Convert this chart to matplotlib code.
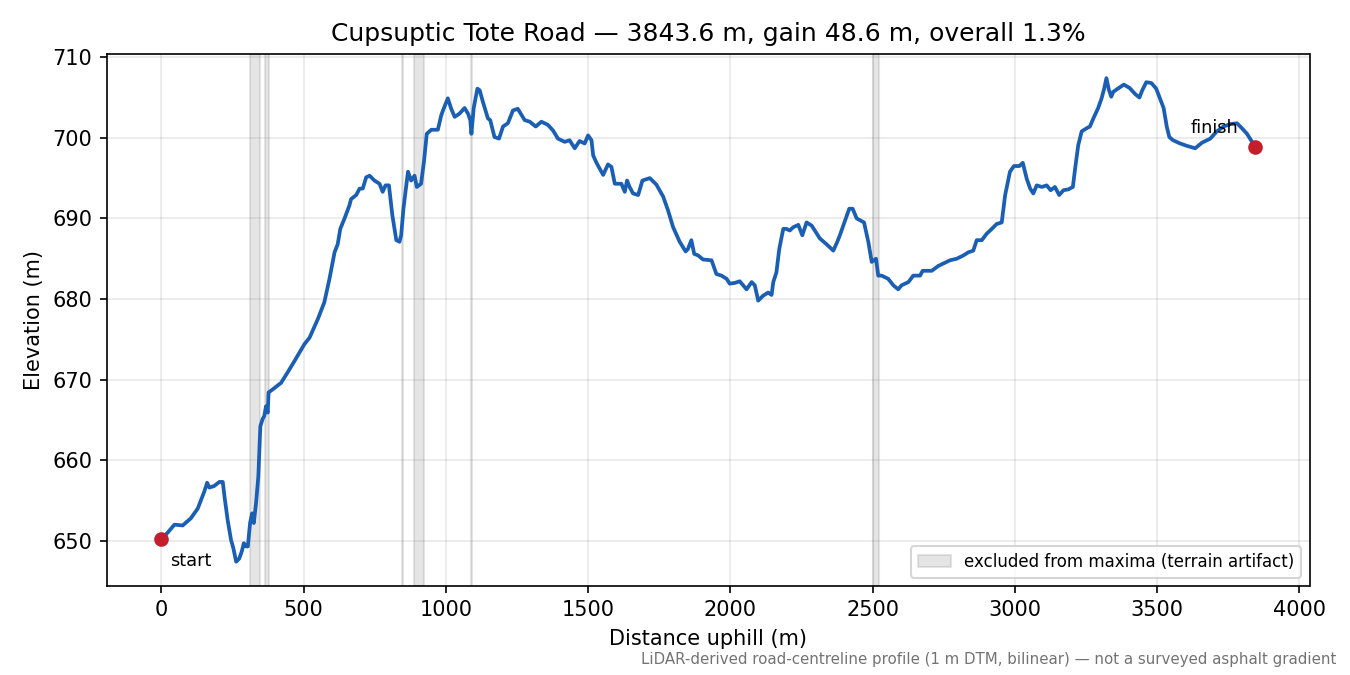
import numpy as np
import matplotlib
matplotlib.use("Agg")
import matplotlib.pyplot as plt

# ── Road profile (distance uphill m, elevation m) ────────────────────────────
dist = [0, 22, 46, 75, 104, 128, 151, 161, 169, 186, 204, 216, 222, 233, 245,
        253, 263, 274, 283, 290, 298, 304, 312, 319, 325, 333, 341, 348, 356,
        362, 368, 374, 377, 392, 421, 444, 468, 503, 521, 550, 573, 591, 609,
        620, 629, 644, 661, 667, 685, 697, 708, 720, 732, 749, 767, 778, 788,
        800, 812, 826, 837, 843, 851, 867, 878, 890, 898, 913, 923, 933, 949,
        972, 984, 990, 1007, 1019, 1031, 1048, 1066, 1078, 1086, 1090, 1098,
        1111, 1119, 1130, 1148, 1156, 1171, 1187, 1201, 1218, 1236, 1253,
        1277, 1295, 1316, 1336, 1359, 1377, 1394, 1418, 1435, 1453, 1470,
        1488, 1500, 1512, 1518, 1531, 1553, 1570, 1582, 1594, 1617, 1629,
        1637, 1646, 1658, 1676, 1691, 1717, 1740, 1764, 1781, 1799, 1822,
        1843, 1851, 1863, 1873, 1887, 1904, 1934, 1951, 1969, 1987, 1998,
        2016, 2033, 2057, 2075, 2086, 2098, 2115, 2133, 2145, 2151, 2162,
        2172, 2186, 2197, 2209, 2221, 2239, 2253, 2268, 2286, 2315, 2338,
        2362, 2376, 2385, 2403, 2418, 2430, 2444, 2470, 2485, 2497, 2512,
        2520, 2532, 2555, 2573, 2590, 2602, 2626, 2643, 2667, 2676, 2690,
        2708, 2731, 2772, 2796, 2819, 2837, 2854, 2866, 2884, 2901, 2919,
        2936, 2954, 2966, 2983, 2997, 3016, 3028, 3042, 3054, 3065, 3077,
        3095, 3112, 3126, 3141, 3156, 3171, 3188, 3204, 3212, 3223, 3235,
        3253, 3264, 3276, 3293, 3305, 3314, 3322, 3331, 3339, 3346, 3362,
        3383, 3403, 3424, 3438, 3448, 3462, 3480, 3497, 3508, 3523, 3534,
        3543, 3556, 3581, 3605, 3634, 3658, 3687, 3710, 3734, 3757, 3781,
        3798, 3816, 3834, 3843.6]
elev = [650.2, 651.0, 652.0, 651.9, 652.8, 654.0, 656.1, 657.2, 656.6, 656.8,
        657.3, 657.3, 655.5, 652.6, 650.1, 649.1, 647.4, 647.8, 648.7, 649.7,
        649.3, 649.3, 652.2, 653.4, 652.2, 654.7, 658.0, 664.2, 665.1, 665.5,
        666.7, 665.9, 668.4, 668.8, 669.6, 670.9, 672.3, 674.4, 675.2, 677.5,
        679.6, 682.5, 685.8, 686.8, 688.7, 690.0, 691.6, 692.4, 692.9, 693.7,
        693.7, 695.1, 695.3, 694.7, 694.3, 693.3, 694.1, 694.1, 690.4, 687.3,
        687.1, 687.9, 691.2, 695.8, 694.7, 695.3, 693.9, 694.3, 697.0, 700.5,
        701.0, 701.0, 702.8, 703.4, 704.9, 703.6, 702.6, 703.0, 703.7, 703.0,
        702.2, 700.5, 703.7, 706.1, 705.9, 704.5, 702.4, 702.2, 700.1, 699.9,
        701.4, 701.8, 703.4, 703.6, 702.2, 702.0, 701.4, 702.0, 701.6, 700.9,
        699.9, 699.5, 699.7, 698.7, 699.6, 699.3, 700.3, 699.7, 697.8, 696.8,
        695.4, 696.7, 696.4, 694.3, 694.3, 693.3, 694.7, 693.9, 693.1, 692.9,
        694.7, 695.0, 694.2, 692.7, 691.0, 688.9, 687.1, 685.9, 686.2, 687.3,
        685.6, 685.4, 684.9, 684.8, 683.1, 682.9, 682.5, 681.9, 682.0, 682.2,
        681.2, 682.1, 681.7, 679.8, 680.4, 680.8, 680.5, 682.1, 683.3, 686.2,
        688.7, 688.7, 688.5, 688.9, 689.2, 687.9, 689.5, 689.1, 687.5, 686.8,
        686.0, 687.1, 687.9, 689.7, 691.2, 691.2, 690.0, 689.5, 687.1, 684.6,
        685.0, 682.9, 682.9, 682.5, 681.7, 681.2, 681.7, 682.1, 682.9, 682.9,
        683.5, 683.5, 683.5, 684.1, 684.8, 685.0, 685.4, 685.8, 686.0, 687.3,
        687.3, 688.1, 688.7, 689.3, 689.5, 692.9, 695.8, 696.5, 696.5, 696.9,
        694.9, 693.7, 693.1, 694.1, 693.9, 694.1, 693.5, 693.9, 692.9, 693.5,
        693.6, 693.9, 696.2, 699.1, 700.8, 701.2, 701.4, 702.4, 703.7, 704.9,
        706.1, 707.4, 705.9, 705.1, 705.7, 706.1, 706.6, 706.2, 705.4, 705.0,
        705.9, 706.9, 706.8, 706.1, 705.1, 703.7, 701.4, 700.1, 699.7, 699.3,
        699.0, 698.7, 699.4, 699.9, 700.8, 701.4, 701.7, 701.8, 701.2, 700.5,
        699.5, 698.8]

# stretches flagged as terrain artifacts (start m, end m)
span_start = [313, 364, 846, 887, 1087, 2500]
span_end   = [348, 379, 851, 925, 1092, 2521]

road_name = "Cupsuptic Tote Road"

dist = np.array(dist)
elev = np.array(elev)
total = dist[-1]
gain = elev[-1] - elev[0]
overall = gain / total * 100

fig, ax = plt.subplots(figsize=(9, 4.5), dpi=150)
fig.subplots_adjust(left=0.079, right=0.970, top=0.92, bottom=0.132)

for i, (a, b) in enumerate(zip(span_start, span_end)):
    ax.axvspan(a, b, color="0.5", alpha=0.2, lw=1,
               label="excluded from maxima (terrain artifact)" if i == 0 else None)

ax.plot(dist, elev, color="#1a5fb4", lw=1.8, zorder=3)
ax.plot([dist[0], dist[-1]], [elev[0], elev[-1]], "o", color="#c41e2c",
        ms=6, zorder=4)
ax.annotate("start", (dist[0], elev[0]), xytext=(4, -6),
            textcoords="offset points", ha="left", va="top", fontsize=8.5)
ax.annotate("finish", (dist[-1], elev[-1]), xytext=(-8, 5),
            textcoords="offset points", ha="right", va="bottom", fontsize=8.5)

ax.set_title(f"{road_name} — {total:.1f} m, gain {gain:.1f} m, "
             f"overall {overall:.1f}%", fontsize=12)
ax.set_xlabel("Distance uphill (m)", fontsize=10)
ax.set_ylabel("Elevation (m)", fontsize=10)
ax.grid(True, color="0.5", alpha=0.18, lw=0.8)
ax.legend(loc="lower right", fontsize=8)

fig.text(0.99, 0.012,
         "LiDAR-derived road-centreline profile (1 m DTM, bilinear) — "
         "not a surveyed asphalt gradient",
         ha="right", va="bottom", fontsize=7.2, color="0.45")

fig.savefig("out.png", dpi=150)
